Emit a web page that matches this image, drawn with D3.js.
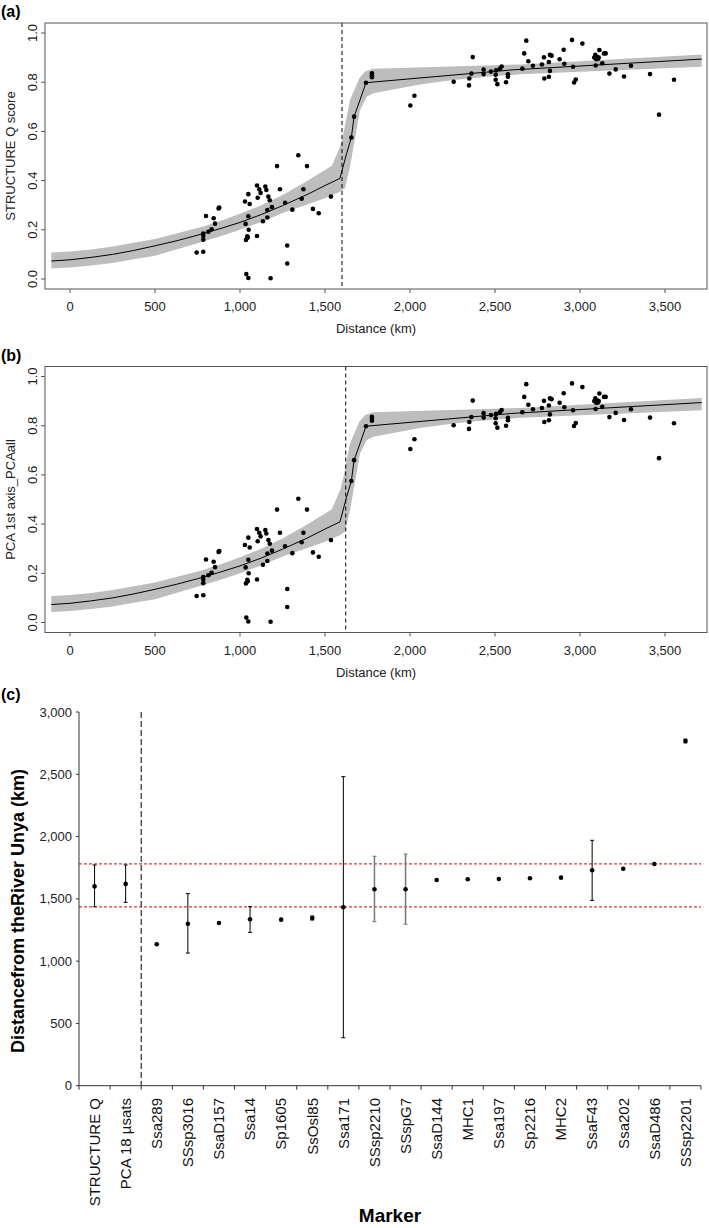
<!DOCTYPE html>
<html>
<head>
<meta charset="utf-8">
<script src="https://cdn.jsdelivr.net/npm/d3@7"></script>
<style>
  body { margin: 0; background: #fff; }
  svg { display: block; font-family: "Liberation Sans", Arial, sans-serif; }
  .dot { fill: #000; }
</style>
</head>
<body>
<svg id="fig" width="709" height="1228"></svg>
<script>
// sample points (distance km, score) - same sites in (a) and (b)
var siteKm = [745, 784, 800, 784, 784, 784, 814, 833, 845, 853, 874, 878,
  1029, 1049, 1057, 1049, 1033, 1051, 1043, 1045, 1035, 1037, 1049,
  1100, 1113, 1121, 1104, 1100, 1135, 1149, 1155, 1167, 1175, 1161, 1161, 1188, 1180,
  1218, 1235, 1265, 1278, 1278, 1308, 1343, 1363, 1373, 1394, 1429, 1463, 1535,
  1655, 1671, 1741, 1776, 1776, 1776, 2002, 2026,
  2257, 2347, 2349, 2361, 2369, 2433, 2433, 2476, 2506, 2504, 2504, 2514, 2529, 2539,
  2565, 2576, 2576, 2661, 2672, 2684, 2696, 2723, 2776, 2788, 2790, 2817, 2817, 2823,
  2823, 2833, 2880, 2904, 2908, 2953, 2959, 2965, 2975, 3014, 3084, 3090, 3096, 3092,
  3100, 3106, 3110, 3114, 3131, 3141, 3151, 3173, 3210, 3259, 3300, 3412, 3465, 3553];
var siteScore = [0.108, 0.111, 0.256, 0.185, 0.175, 0.16, 0.192, 0.202, 0.247, 0.225, 0.287, 0.29,
  0.315, 0.345, 0.305, 0.255, 0.224, 0.2, 0.174, 0.168, 0.159, 0.02, 0.004,
  0.38, 0.365, 0.35, 0.33, 0.175, 0.235, 0.376, 0.362, 0.335, 0.32, 0.28, 0.25, 0.292, 0.003,
  0.459, 0.365, 0.31, 0.136, 0.063, 0.282, 0.503, 0.326, 0.365, 0.459, 0.285, 0.267, 0.335,
  0.575, 0.66, 0.798, 0.836, 0.828, 0.82, 0.705, 0.745,
  0.802, 0.787, 0.815, 0.835, 0.902, 0.851, 0.833, 0.843, 0.848, 0.83, 0.81, 0.792, 0.855, 0.864,
  0.8, 0.832, 0.822, 0.855, 0.917, 0.969, 0.885, 0.867, 0.872, 0.901, 0.815, 0.882, 0.822, 0.911,
  0.846, 0.908, 0.893, 0.932, 0.875, 0.972, 0.863, 0.799, 0.811, 0.957, 0.9, 0.911, 0.893, 0.868,
  0.903, 0.895, 0.9, 0.931, 0.877, 0.917, 0.917, 0.835, 0.852, 0.823, 0.867, 0.833, 0.668, 0.81];

// fitted cline
var fitKm = [-110, 0, 125, 250, 375, 500, 625, 750, 875, 1000, 1125, 1250, 1400, 1500, 1588,
  1627, 1655, 1671, 1706, 1741, 2600, 3716];
var fitVal = [0.073, 0.078, 0.088, 0.1, 0.116, 0.135, 0.155, 0.178, 0.203, 0.23, 0.262, 0.298, 0.345, 0.38, 0.409,
  0.51, 0.575, 0.66, 0.728, 0.798, 0.85, 0.894];

// confidence band edges
var upperKm = [-110, 0, 125, 250, 375, 500, 625, 784, 900, 1000, 1125, 1250, 1375, 1500, 1540,
  1590, 1608, 1647, 1702, 1735, 1784, 2650, 3716];
var upperVal = [0.108, 0.112, 0.12, 0.132, 0.147, 0.163, 0.185, 0.213, 0.24, 0.265, 0.3, 0.341, 0.39, 0.443, 0.46,
  0.54, 0.59, 0.728, 0.816, 0.843, 0.855, 0.872, 0.913];
var lowerKm = [-110, 0, 125, 250, 375, 500, 625, 784, 900, 1000, 1125, 1250, 1375, 1500, 1588,
  1618, 1647, 1706, 1745, 1784, 2059, 2255, 2451, 2650, 3716];
var lowerVal = [0.043, 0.047, 0.055, 0.065, 0.08, 0.095, 0.12, 0.152, 0.177, 0.2, 0.232, 0.268, 0.298, 0.328, 0.355,
  0.37, 0.456, 0.687, 0.741, 0.755, 0.791, 0.809, 0.822, 0.832, 0.863];

var centreA = 1600, centreB = 1622;
var xTicks = [0, 500, 1000, 1500, 2000, 2500, 3000, 3500];
var yTicks = [0, 0.2, 0.4, 0.6, 0.8, 1.0];

// panel (c): estimated cline centre per marker
var markers = ["STRUCTURE Q", "PCA 18 \u00b5sats", "Ssa289", "SSsp3016", "SsaD157", "Ssa14", "Sp1605",
  "SsOsl85", "Ssa171", "SSsp2210", "SSspG7", "SsaD144", "MHC1", "Ssa197", "Sp2216", "MHC2",
  "SsaF43", "Ssa202", "SsaD486", "SSsp2201"];
var centreEst = [1600, 1620, 1135, 1300, 1306, 1336, 1333, 1346, 1432, 1577, 1577, 1651, 1657, 1659, 1665, 1670, 1729, 1742, 1780, 2767];
var centreLo = [1437, 1472, null, 1065, null, 1231, null, 1330, 385, 1317, 1296, null, null, null, null, null, 1488, null, null, 2752];
var centreHi = [1772, 1772, null, 1542, null, 1437, null, 1362, 2481, 1842, 1860, null, null, null, null, null, 1970, null, null, 2782];
var greyBars = ["SSsp2210", "SSspG7"];
var refLines = [1435, 1780];
var cTicks = [0, 500, 1000, 1500, 2000, 2500, 3000];

var svg = d3.select("#fig");
var fmt = d3.format(",");

function drawPanel(top, yLabel, tag, centre) {
  // top = pixel y of the 1.0 tick
  var x = d3.scaleLinear().domain([0, 3500]).range([70, 665]);
  var y = d3.scaleLinear().domain([0, 1]).range([top + 246, top]);
  var x0 = 45, x1 = 707, y0 = top - 10, y1 = top + 256;
  var g = svg.append("g");
  var pline = d3.line().x(function(d) { return x(d[0]); }).y(function(d) { return y(d[1]); });

  var poly = upperKm.map(function(k, i) { return [k, upperVal[i]]; })
    .concat(lowerKm.map(function(k, i) { return [k, lowerVal[i]]; }).reverse());
  g.append("path")
    .attr("d", pline(poly) + "Z")
    .style("fill", "#bdbdbd");

  g.append("path")
    .datum(fitKm.map(function(k, i) { return [k, fitVal[i]]; }))
    .attr("d", pline)
    .style("fill", "none").style("stroke", "#000").style("stroke-width", 1);

  g.append("line")
    .attr("x1", x(centre)).attr("x2", x(centre)).attr("y1", y0).attr("y2", y1)
    .style("stroke", "#000").style("stroke-dasharray", "4,3");

  g.selectAll(".dot").data(siteKm).enter().append("circle")
    .attr("class", "dot")
    .attr("cx", function(d) { return x(d); })
    .attr("cy", function(d, i) { return y(siteScore[i]); })
    .attr("r", 2.3);

  g.append("rect").attr("x", x0).attr("y", y0).attr("width", x1 - x0).attr("height", y1 - y0)
    .style("fill", "none").style("stroke", "#555");

  // x axis
  g.selectAll(".xt").data(xTicks).enter().append("line")
    .attr("x1", function(d) { return x(d); }).attr("x2", function(d) { return x(d); })
    .attr("y1", y1).attr("y2", y1 + 4).style("stroke", "#555");
  g.selectAll(".xl").data(xTicks).enter().append("text")
    .attr("x", function(d) { return x(d); }).attr("y", y1 + 22)
    .attr("text-anchor", "middle").style("font-size", "13px").style("fill", "#222")
    .text(function(d) { return fmt(d); });
  g.append("text").attr("x", (x0 + x1) / 2).attr("y", y1 + 44)
    .attr("text-anchor", "middle").style("font-size", "13px").style("fill", "#222")
    .text("Distance (km)");

  // y axis
  g.selectAll(".yt").data(yTicks).enter().append("line")
    .attr("x1", x0 - 4).attr("x2", x0)
    .attr("y1", function(d) { return y(d); }).attr("y2", function(d) { return y(d); })
    .style("stroke", "#555");
  g.selectAll(".yl").data(yTicks).enter().append("text")
    .attr("transform", function(d) { return "translate(32.5," + y(d) + ") rotate(-90)"; })
    .attr("dy", "0.35em").attr("text-anchor", "middle")
    .style("font-size", "13px").style("fill", "#222")
    .text(function(d) { return d.toFixed(1); });
  g.append("text")
    .attr("transform", "translate(10," + ((y0 + y1) / 2) + ") rotate(-90)")
    .attr("dy", "0.35em").attr("text-anchor", "middle")
    .style("font-size", "13px").style("fill", "#222")
    .text(yLabel);

  g.append("text").attr("x", 1).attr("y", y0 - 6)
    .style("font-size", "16px").style("font-weight", "bold").text(tag);
}

drawPanel(33, "STRUCTURE Q score", "(a)", centreA);
drawPanel(376.5, "PCA 1st axis_PCAall", "(b)", centreB);

// ---- panel (c)
var cx = d3.scaleBand().domain(markers).range([79, 701]);
var cy = d3.scaleLinear().domain([0, 3000]).range([1085.7, 712]);
var gc = svg.append("g");

gc.append("text").attr("x", 1).attr("y", 700)
  .style("font-size", "16px").style("font-weight", "bold").text("(c)");

refLines.forEach(function(v) {
  gc.append("line").attr("x1", 79).attr("x2", 701).attr("y1", cy(v)).attr("y2", cy(v))
    .style("stroke", "#e0393b").style("stroke-width", 1.2).style("stroke-dasharray", "3,2");
});

gc.append("line").attr("x1", cx.range()[0] + cx.bandwidth() * 2).attr("x2", cx.range()[0] + cx.bandwidth() * 2)
  .attr("y1", cy(3000)).attr("y2", cy(0))
  .style("stroke", "#000").style("stroke-dasharray", "6,3");

// axes
gc.append("line").attr("x1", 79).attr("x2", 79).attr("y1", cy(3000)).attr("y2", cy(0)).style("stroke", "#333");
gc.append("line").attr("x1", 79).attr("x2", 701).attr("y1", cy(0)).attr("y2", cy(0)).style("stroke", "#333");
gc.selectAll(".cyt").data(cTicks).enter().append("line")
  .attr("x1", 76).attr("x2", 79)
  .attr("y1", function(d) { return cy(d); }).attr("y2", function(d) { return cy(d); })
  .style("stroke", "#333");
gc.selectAll(".cyl").data(cTicks).enter().append("text")
  .attr("x", 72).attr("y", function(d) { return cy(d); }).attr("dy", "0.35em")
  .attr("text-anchor", "end").style("font-size", "13px").style("fill", "#222")
  .text(function(d) { return fmt(d); });
var edges = markers.map(function(m) { return cx(m); }).concat([701]);
gc.selectAll(".cxt").data(edges).enter().append("line")
  .attr("x1", function(d) { return d; }).attr("x2", function(d) { return d; })
  .attr("y1", cy(0)).attr("y2", cy(0) + 4).style("stroke", "#333");
gc.selectAll(".cxl").data(markers).enter().append("text")
  .attr("transform", function(d) { return "translate(" + (cx(d) + cx.bandwidth() / 2) + ",1098) rotate(-90)"; })
  .attr("dy", "0.35em").attr("text-anchor", "end")
  .style("font-size", "15px").style("fill", "#111")
  .text(function(d) { return d; });

gc.append("text").attr("x", 390).attr("y", 1222).attr("text-anchor", "middle")
  .style("font-size", "19px").style("font-weight", "bold").text("Marker");
gc.append("text")
  .attr("transform", "translate(18,911) rotate(-90)")
  .attr("dy", "0.35em").attr("text-anchor", "middle")
  .style("font-size", "18px").style("font-weight", "bold")
  .text("Distancefrom theRiver Unya (km)");

// error bars and estimates
markers.forEach(function(m, i) {
  var px = cx(m) + cx.bandwidth() / 2;
  if (centreLo[i] != null) {
    var col = greyBars.indexOf(m) >= 0 ? "#777" : "#000";
    var sw = greyBars.indexOf(m) >= 0 ? 1.5 : 1;
    gc.append("line").attr("x1", px).attr("x2", px).attr("y1", cy(centreLo[i])).attr("y2", cy(centreHi[i]))
      .style("stroke", col).style("stroke-width", sw);
    [centreLo[i], centreHi[i]].forEach(function(v) {
      gc.append("line").attr("x1", px - 2).attr("x2", px + 2).attr("y1", cy(v)).attr("y2", cy(v))
        .style("stroke", col).style("stroke-width", 1);
    });
  }
  gc.append("circle").attr("cx", px).attr("cy", cy(centreEst[i])).attr("r", 2.3).style("fill", "#000");
});
</script>
</body>
</html>
